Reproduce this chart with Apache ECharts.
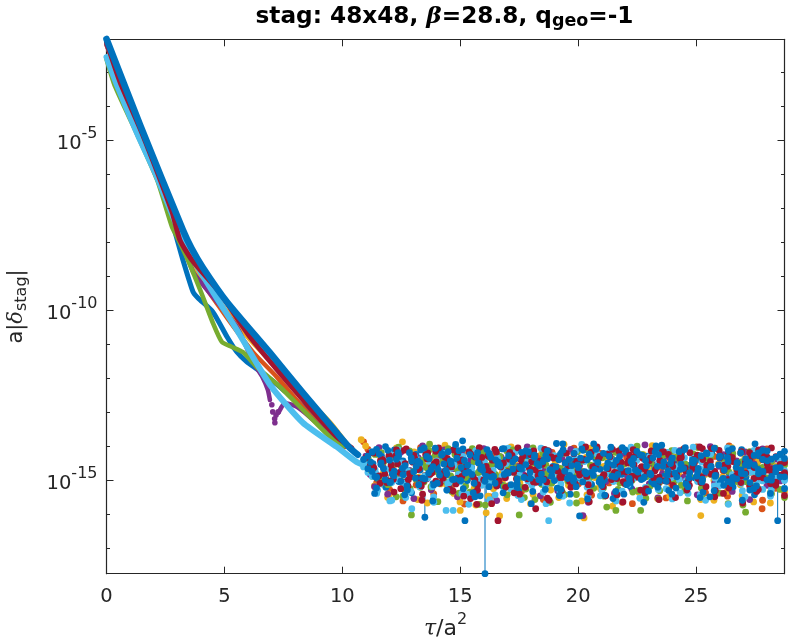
<!DOCTYPE html>
<html><head><meta charset="utf-8">
<style>html,body{margin:0;padding:0;background:#fff}#c{width:789px;height:642px}</style>
<script src="https://cdn.jsdelivr.net/npm/echarts@6/dist/echarts.min.js"></script>
</head><body><div id="c"></div>
<script>
// Palette in draw order
const seriesNames=['blueLow','orange','yellow','purple','green','lightBlue','red','blueTop'];
const seriesColors=['#0072BD','#D95319','#EDB120','#7E2F8E','#77AC30','#4DBEEE','#A2142F','#0072BD'];
// Decay part: [tau, log10 value]
const blueLowDecay=[[0,-2.12],[1.42,-4.7],[2.69,-7.2],[3.24,-8.53],[3.67,-9.47],[3.88,-9.65],[4.51,-10.06],[5.11,-10.79],[5.53,-11.24],[5.95,-11.53],[6.42,-11.76],[7.35,-12.26],[9.9,-13.82]];
const orangeDecay=[[0,-2.2],[1.5,-4.85],[3.54,-8.59],[4.72,-9.85],[6.21,-11.24],[7.22,-11.97],[8.62,-13.09],[10.1,-14.03]];
const yellowDecay=[[0,-2.2],[1.5,-4.85],[3.54,-8.5],[5.91,-10.74],[9.47,-13.3],[10.2,-13.95]];
const purpleDecay=[[0,-2.2],[1.5,-4.9],[3.67,-8.88],[4.09,-9.26],[5.53,-10.5],[6.21,-11.53],[6.63,-12.0],[6.84,-12.35],[6.93,-12.65]];
const purpleDip=[[7.01,-12.79],[7.05,-13.0],[7.13,-13.2],[7.14,-13.32],[7.19,-13.09],[7.28,-13.0]];
const purpleBack=[[7.3,-13.02],[7.43,-12.85],[7.56,-12.74],[8.07,-12.85],[8.62,-13.15],[10.0,-14.0]];
const greenDecay=[[0,-2.62],[0.36,-3.42],[1.27,-4.79],[2.15,-6.18],[2.78,-7.56],[2.99,-7.85],[3.45,-8.53],[4.09,-9.62],[4.51,-10.38],[4.89,-10.94],[5.32,-11.09],[5.78,-11.24],[6.42,-11.71],[7.35,-12.26],[8.33,-12.94],[9.6,-13.82],[10.02,-14.03]];
const lightBlueDecay=[[0,-2.56],[0.44,-3.38],[1.29,-4.79],[2.14,-6.09],[3.33,-8.09],[4.51,-9.47],[5.53,-10.59],[6.93,-12.2],[8.33,-13.32],[9.77,-14.03],[10.6,-14.47],[11.4,-14.7]];
const redDecay=[[0,-2.12],[0.57,-3.29],[1.5,-4.79],[2.78,-7.12],[3.11,-7.94],[3.62,-8.53],[4.81,-9.5],[6.08,-10.79],[8.33,-12.65],[9.77,-13.74],[10.4,-14.06]];
const blueTopDecay=[[0,-2.03],[1.42,-4.55],[3.24,-7.65],[3.6,-8.18],[4.09,-8.76],[5.1,-9.76],[6.93,-11.26],[8.33,-12.44],[9.77,-13.62],[10.32,-14.06],[10.66,-14.26]];
// Noise floor: magnitude of the log10 value, read band by band along tau
const blueLowFloor=[14.52,14.95,14.31,15.22,14.68,14.12,15.05,14.44,14.83,15.38,14.25,14.71,14.97,14.38,15.11,14.59,14.18,14.86,15.29,14.47,14.74,14.09,15.02,14.63,14.35,15.47,14.8,14.22,14.91,14.56,15.16,14.41,14.77,14.15,15.33,14.66,14.28,14.99,14.5,15.08,14.34,14.88,14.6,15.24,14.2,14.72,15.42,14.45,14.93,14.13,14.81,15.13,14.37,14.69,15.0,14.26,15.55,14.54,14.84,14.17,15.19,14.43,14.76,14.96,14.3,15.06,14.61,14.08,14.89,15.31,14.48,14.73,14.23,15.1,14.57,14.94,14.4,15.36,14.67,14.19,14.85,15.03,14.33,14.78,15.21,14.51,14.11,14.92,14.64,15.44,14.29,14.82,14.46,15.12,14.7,14.24,14.98];
const orangeFloor=[13.88,14.1,14.72,15.08,14.36,14.9,15.3,14.55,14.2,15.62,14.79,14.43,15.15,14.05,14.87,14.61,15.41,14.28,14.97,14.68,15.23,14.16,14.52,15.71,14.83,14.33,15.04,14.47,14.74,15.5,14.24,14.93,14.58,15.18,14.12,14.8,15.35,14.41,14.66,15.01,14.3,15.58,14.86,14.19,14.62,15.27,14.49,14.95,14.07,15.12,14.76,14.38,15.45,14.57,14.22,14.89,15.09,14.45,14.7,15.66,14.34,14.99,14.14,14.82,15.32,14.53,14.27,15.06,14.64,15.53,14.4,14.78,14.18,14.91,15.2,14.5,14.03,14.85,15.38,14.6,14.31,15.02,14.73,15.48,14.44,14.96,14.21,14.67,15.14,14.37,14.81,15.6,14.09,14.55,15.25,14.88,14.42];
const yellowFloor=[13.82,14.0,14.62,15.18,14.27,14.81,15.52,14.44,14.06,15.03,14.7,15.33,14.18,14.92,14.53,15.68,14.36,14.76,15.12,13.98,14.59,15.4,14.85,14.23,15.0,14.48,15.74,14.67,14.11,14.95,15.26,14.39,14.79,15.55,14.03,14.56,15.09,14.3,14.88,15.43,14.65,14.2,14.99,15.3,14.46,14.74,13.96,15.16,14.52,14.83,15.62,14.34,14.07,14.93,15.22,14.6,14.41,15.77,14.72,14.15,15.05,14.5,14.86,15.37,14.26,14.68,13.99,15.11,14.57,14.97,15.48,14.32,14.78,14.1,15.2,14.63,14.43,15.58,14.84,14.22,15.01,14.54,14.91,15.34,14.05,14.71,15.14,14.37,14.8,15.65,14.47,14.17,14.98,15.07,14.6,14.28,14.89];
const purpleFloor=[14.3,14.84,15.2,14.05,14.63,15.42,14.47,14.91,14.19,15.07,14.72,15.55,14.35,14.0,14.97,15.29,14.56,14.8,14.12,15.14,14.67,15.5,14.25,14.88,14.42,15.36,14.76,14.08,15.02,14.52,15.61,14.33,14.94,14.21,15.24,14.6,14.83,14.03,15.1,14.46,15.47,14.7,14.16,14.99,15.32,14.38,14.78,14.1,15.18,14.58,14.87,15.66,14.29,14.06,14.95,15.05,14.5,15.4,14.74,14.22,14.9,15.27,14.41,14.65,13.97,15.12,14.55,15.53,14.82,14.31,15.0,14.48,14.14,14.93,15.22,14.69,15.44,14.36,14.8,14.02,15.09,14.6,14.26,14.96,15.34,14.44,14.75,14.18,15.58,14.53,14.86,14.09,15.16,14.66,14.39,15.03,14.77];
const greenFloor=[14.38,14.9,15.34,14.2,14.7,15.11,14.52,14.04,15.48,14.83,14.29,14.98,15.22,14.6,14.13,15.6,14.75,14.43,15.06,14.88,14.25,15.39,14.55,14.95,14.08,15.17,14.68,15.74,14.34,14.82,15.0,14.49,14.16,15.28,14.64,14.93,15.52,14.4,14.06,14.78,15.13,14.57,15.66,14.3,14.87,14.22,15.03,14.72,15.43,14.46,14.11,14.96,15.25,14.61,14.35,15.8,14.85,14.19,15.09,14.54,14.74,15.36,14.01,14.92,14.42,15.19,14.66,15.57,14.28,14.8,14.14,15.01,14.5,15.31,14.71,14.24,14.97,15.46,14.37,14.84,14.07,15.15,14.59,15.7,14.31,14.89,14.47,15.05,14.17,14.77,15.26,14.63,14.4,15.41,14.94,14.27,14.56];
const lightBlueFloor=[14.62,14.78,14.9,15.4,14.3,14.96,15.62,14.45,14.12,15.1,14.72,15.85,14.34,15.2,14.88,14.53,15.5,14.18,14.99,15.3,14.66,14.02,15.06,14.42,15.72,14.8,14.25,15.16,14.58,14.93,15.44,14.37,14.7,14.07,15.25,14.85,15.58,14.48,14.15,15.02,14.64,15.36,14.28,14.9,14.76,15.12,14.55,15.68,14.32,14.98,14.1,15.22,14.68,14.43,15.47,14.83,14.2,15.05,14.6,15.33,14.74,14.04,14.94,15.54,14.39,14.87,14.26,15.14,14.5,15.26,14.79,14.13,15.0,14.57,15.4,14.35,14.91,14.69,15.6,14.22,14.82,15.08,14.47,14.06,15.18,14.63,14.96,15.5,14.3,14.75,14.16,15.03,14.52,15.28,14.86,14.41,14.73];
const redFloor=[14.35,14.58,14.21,14.88,14.45,15.02,14.7,14.12,15.26,14.52,14.82,14.28,14.95,15.42,14.38,14.64,14.16,15.1,14.76,14.49,15.33,14.24,14.9,14.6,15.55,14.33,14.05,15.0,14.72,14.42,15.18,14.56,14.85,14.19,15.38,14.67,14.3,14.97,14.47,15.07,14.8,14.1,15.6,14.36,14.74,14.93,14.22,15.22,14.54,14.86,14.4,15.14,14.62,14.03,14.99,15.47,14.32,14.78,14.15,15.05,14.5,14.89,14.26,15.3,14.69,14.44,14.94,15.12,14.18,14.57,14.83,15.52,14.37,14.08,15.01,14.65,14.27,14.91,15.2,14.46,14.75,14.13,15.4,14.6,14.34,14.87,15.08,14.51,14.2,14.96,15.28,14.41,14.71,14.06,15.16,14.55,14.84];
const blueTopFloor=[14.4,14.67,14.18,14.92,14.5,14.02,15.08,14.74,14.3,14.85,15.3,14.45,14.6,14.12,14.97,14.37,15.15,14.7,14.24,14.82,14.53,13.96,15.02,14.43,14.77,15.38,14.2,14.62,14.9,14.33,15.1,14.55,14.08,14.8,14.47,15.22,14.68,14.15,14.95,14.27,14.58,15.0,14.38,14.73,13.93,15.28,14.5,14.87,14.22,14.64,15.06,14.41,14.78,14.1,14.98,15.45,14.31,14.57,14.84,14.05,15.14,14.46,14.71,14.26,14.92,15.33,14.36,14.6,13.98,15.04,14.52,14.8,14.17,14.66,15.2,14.42,14.89,14.29,14.75,15.5,14.07,14.56,14.96,14.34,15.11,14.63,14.21,14.83,14.48,15.26,14.69,14.13,15.0,14.39,14.76,14.25,14.91];
const greenMidFloor=[14.7,14.25,14.96,14.48,15.14,14.33,14.82,14.58,15.3,14.15,14.74,14.99,14.42,14.64,15.21,14.27,14.87,14.52,14.08,15.06,14.68,14.36,14.93,15.36,14.46,14.79,14.2,15.0,14.55,14.85,14.31,15.18,14.61,14.12,14.9,14.4,15.27,14.72,14.5,14.98,14.23,14.81,15.1,14.35,14.66,15.44,14.44,14.89,14.17,14.76,15.03,14.57,14.29,14.95,15.24,14.63,14.38,14.84,14.1,15.12,14.51,14.73,15.32,14.26,14.91,14.47,14.6,15.08,14.19,14.78,14.97,14.34,15.16,14.54,14.86,14.41,14.05,15.01,14.69,14.3,14.92,15.39,14.49,14.75,14.22,15.05,14.59,14.83,14.37,15.2,14.65,14.13,14.94,14.45,14.71,15.28,14.53];
const lightBlueMidFloor=[14.55,14.18,14.8,15.12,14.4,14.68,14.27,15.0,14.5,14.88,15.34,14.33,14.6,14.1,14.94,15.2,14.44,14.75,14.22,15.06,14.57,14.84,14.31,15.42,14.65,14.14,14.97,14.47,15.1,14.72,14.36,14.9,14.52,15.26,14.2,14.79,14.62,15.03,14.41,14.86,14.07,15.16,14.69,14.29,14.96,15.48,14.54,14.76,14.16,14.92,14.46,15.08,14.64,14.25,15.3,14.82,14.38,14.99,14.59,14.11,15.14,14.7,14.43,14.87,15.22,14.32,14.74,14.51,15.01,14.19,14.93,14.61,15.38,14.35,14.81,14.04,15.05,14.48,14.71,14.24,14.95,15.18,14.56,14.3,14.85,14.66,15.11,14.42,14.78,14.13,14.98,15.28,14.53,14.39,14.89,14.63,15.02];
const redMidFloor=[14.22,14.64,14.9,14.4,15.08,14.56,14.3,14.78,14.13,15.0,14.48,14.7,15.18,14.26,14.84,14.52,14.06,14.95,14.37,14.62,15.12,14.44,14.73,14.18,14.91,15.3,14.34,14.6,14.82,14.1,15.03,14.5,14.76,14.28,14.97,14.41,15.22,14.66,14.15,14.87,14.54,15.06,14.32,14.71,14.93,14.2,14.58,15.14,14.46,14.8,14.03,15.36,14.68,14.38,14.89,14.24,14.99,14.53,14.77,15.1,14.43,14.11,14.86,14.61,15.26,14.35,14.74,14.92,14.17,15.04,14.49,14.81,14.29,14.65,15.16,14.4,14.96,14.08,14.57,14.83,15.32,14.36,14.72,14.21,15.01,14.51,14.88,14.45,15.2,14.63,14.12,14.94,14.33,14.69,15.07,14.55,14.79];
const redCoreFloor=[14.6,14.16,14.44,14.83,14.28,14.98,14.53,14.72,14.09,14.91,14.37,14.66,15.03,14.21,14.79,14.47,14.87,14.33,14.58,14.12,14.95,14.41,14.75,14.24,15.0,14.51,14.68,14.3,14.86,14.18,14.62,14.93,14.39,14.78,14.06,14.55,14.89,14.26,14.7,14.45,14.97,14.14,14.64,14.35,14.82,14.5,15.05,14.23,14.73,14.42,14.9,14.19,14.59,14.31,14.85,14.67,14.1,14.96,14.48,14.76,14.27,14.56,14.92,14.36,14.81,14.15,14.69,14.43,15.02,14.25,14.61,14.88,14.34,14.74,14.2,14.52,14.94,14.4,14.65,14.08,14.84,14.29,14.57,14.99,14.46,14.71,14.17,14.8,14.38,14.63,14.91,14.22,14.54,14.77,14.32,14.86,14.49];
const blueMidFloor=[14.3,14.75,14.1,14.55,15.0,14.42,14.88,14.2,14.66,15.18,14.35,14.95,14.5,14.06,14.8,14.61,15.1,14.27,14.72,14.44,14.98,14.14,15.26,14.57,14.84,14.33,14.68,15.04,14.23,14.9,14.47,14.09,14.78,15.14,14.38,14.63,14.93,14.18,15.34,14.52,14.83,14.29,14.7,15.02,14.41,14.12,14.96,14.58,15.2,14.36,14.76,14.24,14.87,14.49,15.08,14.65,14.04,14.92,14.32,15.42,14.73,14.54,14.16,14.99,14.43,14.81,15.12,14.26,14.6,14.86,14.39,15.24,14.69,14.11,14.94,14.5,14.77,15.06,14.21,14.62,14.89,14.34,15.16,14.46,14.08,14.97,14.71,14.56,15.3,14.28,14.82,14.4,14.15,15.01,14.64,14.91,14.37];
const blueCoreFloor=[14.48,14.9,14.24,14.67,14.13,14.83,14.39,15.04,14.58,14.2,14.76,14.45,14.95,14.31,14.7,14.07,14.86,14.53,14.17,14.99,14.36,14.63,14.8,14.26,15.1,14.5,14.72,14.11,14.92,14.41,14.6,14.84,14.29,14.68,14.97,14.19,14.55,14.78,14.34,15.0,14.46,14.15,14.88,14.62,14.25,14.74,14.4,14.94,14.56,14.09,14.82,14.32,14.69,15.06,14.22,14.51,14.89,14.43,14.65,14.12,14.96,14.37,14.77,14.28,14.59,14.85,14.18,15.02,14.47,14.73,14.35,14.91,14.54,14.05,14.79,14.42,14.66,14.98,14.23,14.6,14.87,14.3,14.71,14.14,14.93,14.49,14.81,14.38,15.08,14.57,14.21,14.75,14.44,14.9,14.33,14.64,14.16];
// Lower tail of the band
const yellowTail=[15.2,15.42,15.05,15.58,15.3,15.12,15.65,15.25,15.48,15.08,15.36,15.7,15.16,15.52,15.02,15.44,15.28,15.62,15.1,15.38,15.55,15.18,15.32,15.04,15.6,15.22,15.46,15.14,15.68,15.34];
const greenTail=[15.12,15.5,15.26,15.06,15.64,15.34,15.18,15.72,15.03,15.44,15.22,15.58,15.1,15.38,15.68,15.16,15.48,15.28,15.02,15.54,15.32,15.14,15.62,15.24,15.42,15.08,15.74,15.2,15.36,15.52];
const lightBlueTail=[15.3,15.08,15.52,15.2,15.66,15.12,15.4,15.04,15.58,15.26,15.46,15.16,15.7,15.34,15.06,15.5,15.22,15.62,15.1,15.38,15.28,15.56,15.02,15.44,15.18,15.72,15.32,15.14,15.48,15.24];
const redTail=[15.1,15.36,15.18,15.6,15.04,15.28,15.48,15.14,15.7,15.22,15.42,15.06,15.54,15.32,15.12,15.64,15.2,15.44,15.02,15.38,15.58,15.16,15.3,15.08,15.5,15.24,15.68,15.34,15.11,15.46];
const blueTail=[15.24,15.06,15.44,15.14,15.62,15.3,15.02,15.5,15.2,15.38,15.1,15.7,15.28,15.46,15.04,15.56,15.16,15.34,15.08,15.66,15.22,15.42,15.12,15.52,15.32,15.05,15.6,15.18,15.4,15.26];
// Lone points above and below the band: [tau, log10 value]
const blueTopLow=[[11.37,-15.4],[13.5,-16.1],[15.2,-16.2],[16.05,-17.76],[20.06,-16.06],[26.33,-16.2],[28.46,-16.2],[15.1,-13.85],[19.35,-13.94],[20.66,-13.94],[27.5,-13.94],[23.3,-14.0]];
const greenLow=[[12.93,-16.03],[17.5,-16.03],[21.6,-15.9],[22.65,-15.9],[27.1,-15.95],[13.7,-13.95]];
const lightBlueLow=[[14.4,-15.9],[14.7,-15.9],[18.75,-16.2],[12.1,-15.6],[20.15,-13.96]];
const redLow=[[16.6,-16.2],[15.7,-15.72],[18.2,-15.85],[21.9,-15.65],[25.15,-14.03]];
const yellowLow=[[16.1,-15.97],[16.67,-16.06],[15.0,-15.9],[20.25,-16.12],[25.2,-16.05],[12.55,-13.88]];
const orangeLow=[[27.8,-15.85],[22.3,-15.7],[26.4,-14.0]];
const purpleLow=[[20.2,-16.05]];
// Thin joining lines to the deepest points
const blueSpikes=[[11.37,-14.95],[11.37,-15.4],null,[13.5,-15.45],[13.5,-16.1],null,[16.05,-14.9],[16.05,-17.76],null,[16.1,-14.9],[16.1,-16.1],null,[28.46,-15.1],[28.46,-16.2]];
// Axes
const xMin=0,xMax=28.75,xStep=5;
const yMinExp=-17.76,yMaxExp=-2.04;
const titleParts=['stag: 48x48, ','β','=28.8, q','geo','=-1'];

const pow=e=>Math.pow(10,e);
const conv=a=>a.map(p=>p?[p[0],pow(p[1])]:[null,null]);
const decays=[blueLowDecay,orangeDecay,yellowDecay,purpleDecay,greenDecay,lightBlueDecay,redDecay,blueTopDecay];
const decayWidths=[5,4.5,4.5,4.5,4.6,6,5,6.6];
const floorSets=[
 [orangeFloor,1,10.9,orangeLow],[yellowFloor,2,10.8,yellowLow],[yellowTail,2,11.4,[]],[purpleFloor,3,11.0,purpleLow],[greenFloor,4,11.1,greenLow],[greenTail,4,11.7,[]],
 [lightBlueFloor,5,10.9,lightBlueLow],[lightBlueTail,5,11.5,[]],[blueLowFloor,0,11.3,[]],[greenMidFloor,4,11.2,[]],[lightBlueMidFloor,5,11.05,[]],
 [redTail,6,11.6,[]],[redMidFloor,6,11.15,[]],[redFloor,6,11.0,redLow],[redCoreFloor,6,11.25,[]],[blueTail,0,11.45,[]],[blueMidFloor,0,11.08,[]],[blueCoreFloor,0,11.2,[]],[blueTopFloor,7,10.9,blueTopLow]];
const MS=6.8;
const series=[];
decays.forEach((d,i)=>{
  series.push({name:seriesNames[i]+' decay',type:'line',data:conv(d),symbol:'none',smooth:0.2,clip:false,silent:true,animation:false,z:2+i,
    lineStyle:{color:seriesColors[i],width:decayWidths[i],cap:'round',join:'round'}});
  if(i===3){
    series.push({name:'purple dip',type:'scatter',data:conv(purpleDip),symbolSize:5.6,clip:false,silent:true,animation:false,z:2+i,itemStyle:{color:seriesColors[3],opacity:1}});
    series.push({name:'purple back',type:'line',data:conv(purpleBack),symbol:'none',smooth:0.2,clip:false,silent:true,animation:false,z:2+i,lineStyle:{color:seriesColors[3],width:4.5,cap:'round',join:'round'}});
  }
});
series.push({name:'spikes',type:'line',data:conv(blueSpikes),symbol:'none',connectNulls:false,clip:false,silent:true,animation:false,z:11,lineStyle:{color:'#0072BD',width:1}});
floorSets.forEach((fs,k)=>{
  const f=fs[0],i=fs[1],s=fs[2],step=(xMax-s)/(f.length-1);
  const pts=f.map((v,j)=>[s+j*step,pow(-v)]).concat(conv(fs[3]));
  series.push({name:seriesNames[i]+' floor '+k,type:'scatter',data:pts,symbol:'circle',symbolSize:MS,clip:false,silent:true,animation:false,z:12+k,
    itemStyle:{color:seriesColors[i],opacity:1}});
});

const axisCol='#262626';
const ff='"DejaVu Sans"';
const L=106.5,R=4.5;
const grids=[
 {left:L,right:R,top:39.3,bottom:68.3,outerBoundsMode:'none'},
 {left:L,right:R,top:140,height:340,outerBoundsMode:'none'},
 {left:L,right:R,top:72,height:476,outerBoundsMode:'none'}
];
const hiddenX=g=>({type:'value',gridIndex:g,min:xMin,max:xMax,show:false});
const tickY=(g,pos,lo,hi,iv,len,extra)=>Object.assign({type:'log',logBase:10,gridIndex:g,position:pos,min:pow(lo),max:pow(hi),interval:iv,
  splitLine:{show:false},minorTick:{show:false},axisLine:{show:false},
  axisTick:{inside:true,length:len,lineStyle:{color:axisCol,width:1}},axisLabel:{show:false}},extra||{});
const yFmt=v=>{const e=Math.round(Math.log10(v));return '{b|10}{s|'+e+'}';};
const frameY=(pos,extra)=>Object.assign({type:'log',logBase:10,gridIndex:0,position:pos,min:pow(yMinExp),max:pow(yMaxExp),
  splitLine:{show:false},minorTick:{show:false},axisTick:{show:false},axisLabel:{show:false},
  axisLine:{show:true,onZero:false,lineStyle:{color:axisCol,width:1.2}}},extra||{});
const yAxes=[
 frameY('left',{name:'{a|a|}{d|δ}{t|stag}{a||}',nameLocation:'middle',nameGap:77,nameRotate:90,
   nameTextStyle:{rich:{a:{fontSize:21,fontFamily:ff,color:axisCol},d:{fontSize:21,fontFamily:'"DejaVu Serif"',fontStyle:'italic',color:axisCol},t:{fontSize:16,fontFamily:ff,color:axisCol,padding:[10,0,0,0],verticalAlign:'bottom'}}}}),
 frameY('right'),
 tickY(1,'left',-15,-5,5,7,{axisLabel:{show:true,margin:9,color:axisCol,fontFamily:ff,formatter:yFmt,
     rich:{b:{fontSize:19.5,fontFamily:ff,color:axisCol,padding:[8,0,0,0]},s:{fontSize:16,fontFamily:ff,color:axisCol,verticalAlign:'top',padding:[0,0,8,0]}}}}),
 tickY(1,'right',-15,-5,5,7),
 tickY(2,'left',-17,-3,1,3.5),
 tickY(2,'right',-17,-3,1,3.5)
];
const xBase={type:'value',gridIndex:0,min:xMin,max:xMax,interval:xStep,splitLine:{show:false},
  axisLine:{show:true,onZero:false,lineStyle:{color:axisCol,width:1.2}},axisTick:{inside:true,length:7,lineStyle:{color:axisCol,width:1}}};
const xAxes=[
 Object.assign({},xBase,{position:'bottom',axisLabel:{show:true,showMaxLabel:false,margin:13,fontSize:19.5,fontFamily:ff,color:axisCol},
   name:'{t|τ}{a|/a}{s|2}',nameLocation:'middle',nameGap:38,
   nameTextStyle:{rich:{t:{fontSize:22,fontFamily:'"DejaVu Serif"',fontStyle:'italic',color:axisCol,padding:[7,0,0,0]},a:{fontSize:22,fontFamily:ff,color:axisCol,padding:[7,0,0,0]},s:{fontSize:16,fontFamily:ff,color:axisCol,verticalAlign:'top'}}}}),
 Object.assign({},xBase,{position:'top',axisLabel:{show:false}}),
 hiddenX(1),hiddenX(2)
];
const chart=echarts.init(document.getElementById('c'),null,{renderer:'canvas'});
chart.setOption({
  animation:false,backgroundColor:'#fff',
  title:{left:439.5,top:-2,textAlign:'center',
    text:'{b|'+titleParts[0]+'}{g|'+titleParts[1]+'}{b|'+titleParts[2]+'}{u|'+titleParts[3]+'}{b|'+titleParts[4]+'}',
    textStyle:{rich:{b:{fontSize:23.2,fontWeight:'bold',fontFamily:ff,color:'#000'},g:{fontSize:23.2,fontStyle:'italic',fontFamily:'"DejaVu Serif"',color:'#000'},u:{fontSize:17.5,fontWeight:'bold',fontFamily:ff,color:'#000',verticalAlign:'bottom',padding:[9,0,0,0]}}}},
  grid:grids,xAxis:xAxes,yAxis:yAxes,series:series
});
</script></body></html>
